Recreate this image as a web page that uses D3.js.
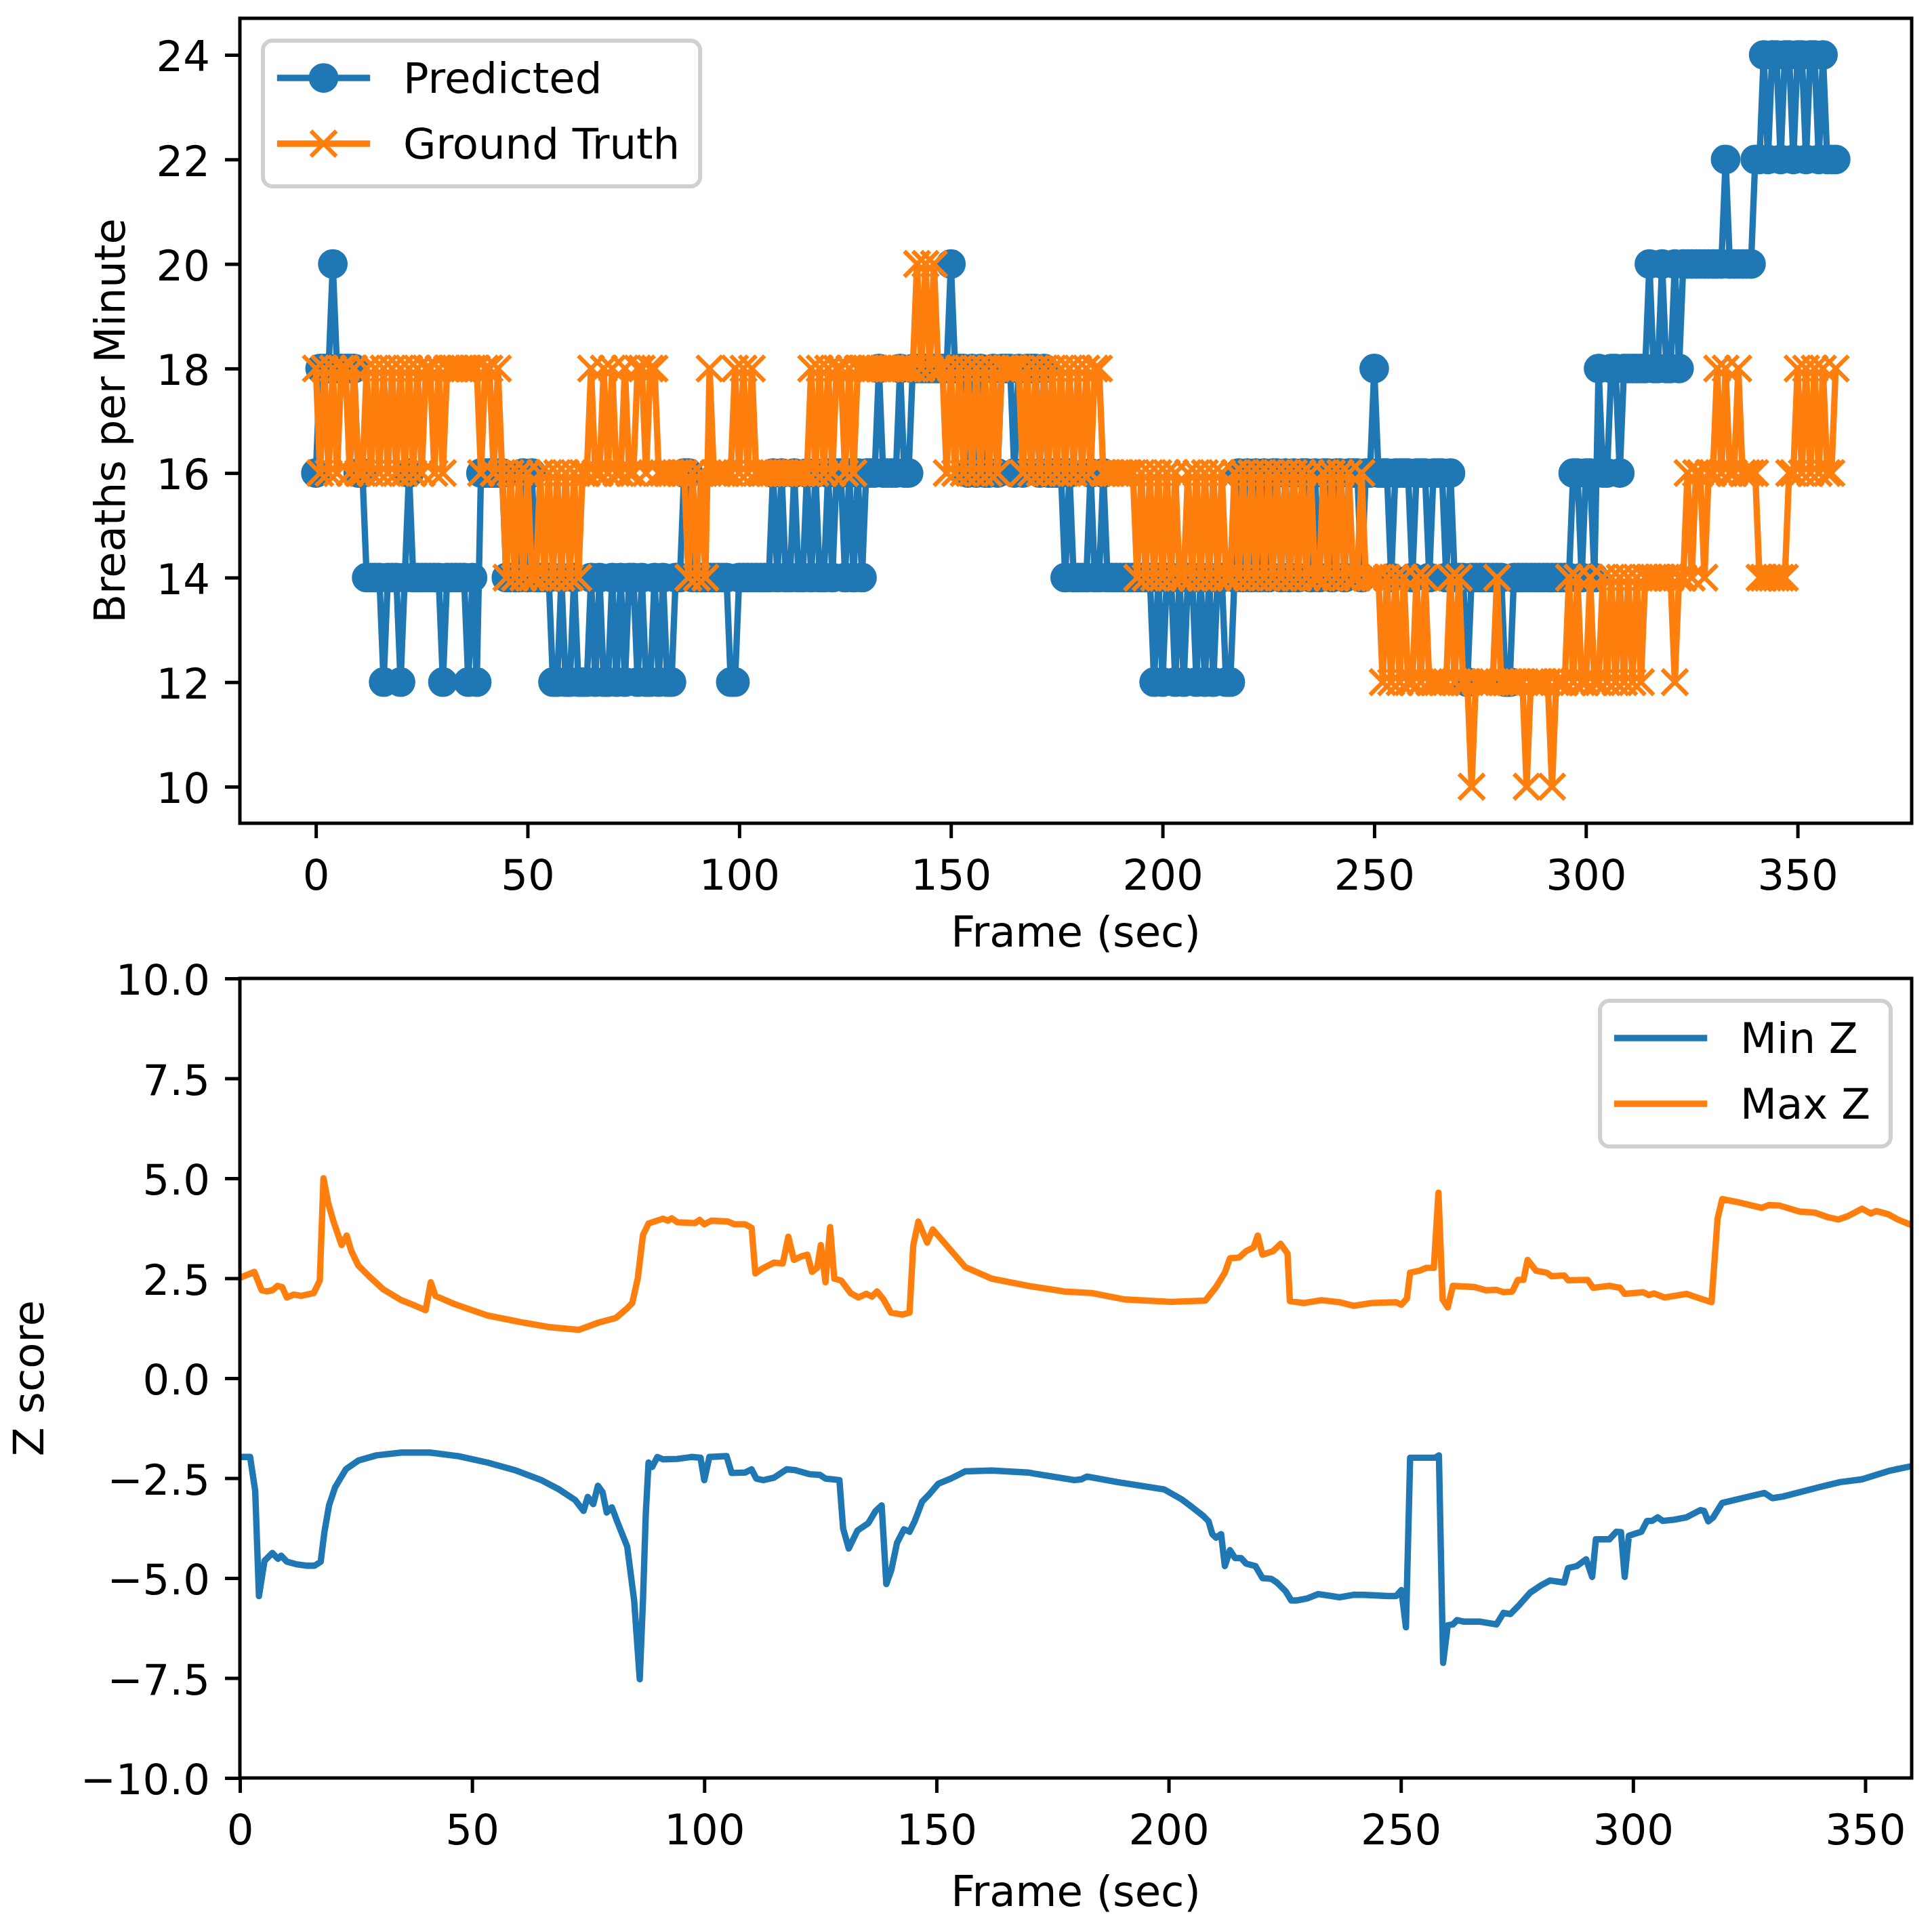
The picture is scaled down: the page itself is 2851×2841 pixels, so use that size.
<!DOCTYPE html>
<html>
<head>
<meta charset="utf-8">
<script src="https://cdn.jsdelivr.net/npm/d3@7"></script>
<style>
  html, body { margin: 0; padding: 0; background: #ffffff; }
  svg { display: block; }
  text { font-family: "DejaVu Sans", sans-serif; }
</style>
</head>
<body>
<script>
// ---------------- DATA ----------------
const predicted = [
  16,18,18,18,20,18,18,18,18,18,
  16,16,14,14,14,14,12,14,14,14,
  12,14,16,14,14,14,14,14,14,14,
  12,14,14,14,14,14,12,14,12,16,
  16,16,16,16,16,14,14,14,14,16,
  14,16,14,14,14,14,12,12,14,12,
  12,14,12,12,12,14,12,14,12,12,
  14,12,14,12,14,14,12,14,12,12,
  14,12,14,12,12,14,14,16,16,14,
  14,14,14,14,14,14,14,14,12,12,
  14,14,14,14,14,14,14,14,16,14,
  16,14,14,16,14,14,16,14,16,14,
  14,16,14,16,16,14,16,14,16,14,
  16,16,16,18,16,16,16,16,18,16,
  16,18,18,18,18,18,18,18,18,18,
  20,18,18,18,16,18,16,18,16,16,
  18,16,18,18,18,16,18,16,18,18,
  18,16,18,16,16,16,16,14,16,14,
  14,14,14,16,14,14,16,14,14,14,
  14,14,14,14,14,14,14,14,12,14,
  12,14,14,12,14,12,14,14,12,14,
  12,14,12,14,14,12,12,14,16,14,
  16,14,16,14,16,14,16,16,14,16,
  14,16,14,16,16,14,16,14,16,16,
  14,16,16,14,16,16,16,14,16,16,
  18,16,16,16,14,16,16,16,16,14,
  16,16,16,14,16,16,16,14,16,14,
  14,14,12,14,14,14,14,14,14,14,
  14,12,12,14,14,14,14,14,14,14,
  14,14,14,14,14,14,14,16,16,14,
  16,16,14,18,16,16,18,18,16,18,
  18,18,18,18,18,20,18,18,20,18,
  18,20,18,20,20,20,20,20,20,20,
  20,20,20,22,20,20,20,20,20,20,
  22,22,24,22,24,24,22,24,24,22,
  24,24,22,24,24,22,24,22,22,22
];
const groundTruth = [
  18,16,18,16,18,16,18,18,16,18,
  16,16,18,16,18,16,18,16,18,16,
  18,16,18,16,18,16,18,18,16,18,
  16,18,18,18,18,18,18,18,18,16,
  18,18,16,18,16,14,16,14,16,14,
  16,14,14,16,14,16,14,16,14,16,
  14,16,14,16,16,18,16,16,18,16,
  18,16,16,18,16,16,18,18,16,18,
  18,16,16,16,16,16,16,16,14,16,
  14,16,14,18,16,16,16,16,16,18,
  16,18,16,18,16,16,16,16,16,16,
  16,16,16,16,16,16,16,18,16,18,
  16,18,16,18,18,16,18,16,18,18,
  18,18,18,18,18,18,18,18,18,18,
  18,18,20,18,20,18,20,18,18,16,
  18,16,18,16,18,16,18,16,18,16,
  18,16,18,18,18,18,18,16,18,16,
  18,16,18,16,18,16,18,16,18,16,
  18,16,18,16,18,18,16,16,16,16,
  16,16,16,16,14,16,14,16,14,16,
  14,16,14,16,14,14,16,14,16,14,
  16,14,16,14,16,14,14,16,14,16,
  14,16,14,16,14,16,14,16,14,16,
  14,16,14,16,14,16,14,14,16,14,
  16,14,16,14,16,14,14,16,14,14,
  14,14,12,14,12,14,12,14,12,12,
  14,12,14,12,12,12,12,12,14,12,
  14,12,12,10,12,12,12,12,12,14,
  12,12,12,12,12,12,10,12,12,12,
  12,12,10,12,12,12,14,12,14,12,
  12,14,12,12,14,12,14,12,14,12,
  14,12,14,12,14,14,14,14,14,14,
  14,12,14,14,16,14,16,16,14,16,
  16,18,16,18,16,16,18,16,16,16,
  16,14,14,14,14,14,14,14,16,16,
  18,16,18,16,18,16,18,16,16,18
];

// Z-score traces (frame, value)
const zMaxFrames = [0,3.1,4.7,5.8,7,8.1,9.1,10.1,11.6,13.2,15.9,17.2,18,19,20.1,21.9,23,24,25.5,27.8,30.9,34.8,37.8,40,41.1,42.1,46.3,53.3,61,66.4,73,77.2,81,83.4,84.5,85.7,86.8,88,91.1,92.2,93,94.2,98,99,100,101.5,105,106.5,108.8,110.2,111,112.3,115,116.9,118.1,119.3,121,122.2,123.2,124.3,125.1,126.1,127.1,128,129.5,131.5,133.2,134.9,136.1,137.2,138.6,140.2,142.6,144.2,145,146.1,148,149.2,151.9,156.2,161.9,169.7,177.4,183.5,190.5,200.5,207.9,210.2,212.1,213.2,215.2,216.7,218.3,219.2,220.2,222.5,224.1,225.6,226.1,229.1,232.9,236.8,239.9,243.6,249,250.1,251.3,252,254,255.5,257.1,258.1,259,260.1,261.2,265.9,268.3,270.6,272.1,274,275.2,276.4,277.3,279.1,281.4,282.5,285.2,286,290.2,291.4,294.9,297.2,298.2,302.2,303.4,304.5,306.8,311.5,313.8,316.9,318.2,319.2,322.3,327.7,329.2,331.5,335.8,339.2,341.9,344.2,346.2,349.3,351.2,352.4,355,357,360];
const zMaxValues = [2.51,2.66,2.2,2.17,2.2,2.31,2.28,2.02,2.09,2.06,2.13,2.44,5.0,4.39,3.94,3.33,3.57,3.18,2.82,2.55,2.22,1.95,1.81,1.7,2.4,2.06,1.85,1.57,1.39,1.28,1.21,1.39,1.51,1.75,1.88,2.51,3.58,3.87,3.99,3.94,4.0,3.9,3.88,3.96,3.85,3.94,3.92,3.85,3.85,3.76,2.62,2.73,2.89,2.87,3.54,2.96,3.05,3.09,2.66,2.76,3.33,2.4,3.78,2.49,2.44,2.13,2.02,2.11,2.04,2.17,1.97,1.64,1.59,1.64,3.32,3.92,3.39,3.72,3.36,2.78,2.49,2.31,2.17,2.13,1.97,1.91,1.94,2.28,2.64,3.0,3.02,3.18,3.27,3.57,3.09,3.18,3.36,3.12,1.93,1.88,1.95,1.9,1.81,1.88,1.9,1.84,1.99,2.64,2.69,2.76,2.76,4.64,1.97,1.77,2.31,2.28,2.2,2.21,2.15,2.17,2.46,2.46,2.96,2.69,2.64,2.55,2.57,2.45,2.46,2.26,2.31,2.26,2.11,2.15,2.08,2.12,2.02,2.11,2.02,1.9,3.99,4.48,4.41,4.26,4.33,4.32,4.17,4.14,4.03,3.97,4.05,4.24,4.12,4.18,4.1,3.97,3.83];
const zMinFrames = [0,2.2,3.3,4.1,5.3,7,8.2,8.9,10.1,12.4,14.3,16.1,17.4,18.2,19.2,20.5,22.8,25.5,29.4,34.8,40.9,47.1,53.3,59.5,64.9,68.7,72.2,74,74.9,76.1,77.1,78.1,79,80.1,81.4,83.4,84.9,86.1,86.8,87.4,88,88.8,89.9,91.1,94.2,97.3,99.2,100,101.1,104.8,105.9,108.8,110.2,111.2,112.7,115,117.7,119.6,122.6,124.9,126.1,129.1,129.9,131.1,133,135.3,136.9,138.2,139.2,140.3,141.5,143,144.2,145.3,146.9,148.4,150.4,153.1,156.2,161.9,169.7,179.7,181.2,182.4,189,199,202.8,205.1,207.5,208.6,209.4,210.2,211.3,212.1,213.2,214.3,215.6,216.7,218.7,220.2,222.1,223.3,225.2,226.4,227.5,229.8,232.2,234.5,236.8,239.7,242,247.4,249,250.1,251.1,252,257.4,258.2,259.1,260.1,261.2,262.1,263.6,267.1,270.6,272.1,273.6,275.6,277.9,280.2,282.1,285.2,286,287.9,289.9,291.2,292,294.9,296.4,297.4,298.2,299.1,301.8,303,304.1,305.3,306.4,308.8,311.5,314.5,315.3,316.2,317.2,319.2,324.6,328.3,330,332.3,340,344.6,349.3,355.4,360];
const zMinValues = [-1.97,-1.97,-2.82,-5.45,-4.57,-4.37,-4.52,-4.44,-4.59,-4.66,-4.69,-4.69,-4.59,-3.85,-3.18,-2.73,-2.28,-2.06,-1.93,-1.86,-1.86,-1.95,-2.11,-2.31,-2.55,-2.78,-3.05,-3.32,-2.97,-3.15,-2.69,-2.85,-3.36,-3.23,-3.63,-4.21,-5.56,-7.53,-5.56,-3.41,-2.11,-2.22,-1.97,-2.03,-2.02,-1.97,-1.99,-2.55,-1.97,-1.95,-2.37,-2.36,-2.28,-2.51,-2.55,-2.49,-2.28,-2.3,-2.4,-2.42,-2.51,-2.55,-3.76,-4.26,-3.81,-3.63,-3.32,-3.18,-5.15,-4.79,-4.12,-3.78,-3.84,-3.58,-3.09,-2.91,-2.64,-2.51,-2.33,-2.31,-2.36,-2.55,-2.53,-2.46,-2.6,-2.78,-3.03,-3.23,-3.45,-3.58,-3.9,-3.99,-3.9,-4.7,-4.3,-4.5,-4.5,-4.64,-4.7,-5.0,-5.02,-5.11,-5.33,-5.56,-5.56,-5.51,-5.4,-5.44,-5.48,-5.42,-5.42,-5.45,-5.45,-5.3,-6.23,-1.99,-1.99,-1.93,-7.12,-6.18,-6.16,-6.05,-6.09,-6.09,-6.16,-5.87,-5.9,-5.66,-5.36,-5.18,-5.06,-5.11,-4.75,-4.7,-4.53,-4.97,-4.03,-4.03,-3.84,-3.85,-4.97,-3.94,-3.84,-3.57,-3.57,-3.48,-3.57,-3.54,-3.48,-3.3,-3.32,-3.58,-3.49,-3.12,-2.97,-2.87,-3.0,-2.96,-2.73,-2.6,-2.53,-2.31,-2.2];

const topXTicks = [0, 50, 100, 150, 200, 250, 300, 350];
const topYTicks = [10, 12, 14, 16, 18, 20, 22, 24];
const botXTicks = [0, 50, 100, 150, 200, 250, 300, 350];
const botYTicks = [-10, -7.5, -5, -2.5, 0, 2.5, 5, 7.5, 10];

const topLegendLabels = ["Predicted", "Ground Truth"];
const botLegendLabels = ["Min Z", "Max Z"];

// ---------------- LAYOUT ----------------
const W = 2851, H = 2841;
const BLUE = "#1f77b4", ORANGE = "#ff7f0e";
const FS = 62.5;          // 10pt at 450 dpi
const LW = 9.375;         // 1.5pt
const SPINE = 5;          // 0.8pt
const TICK = 22;          // 3.5pt
const PAD = 22;

const topBox = { left: 354, right: 2821, top: 27, bottom: 1215 };
const botBox = { left: 354, right: 2821, top: 1444, bottom: 2624 };

const svg = d3.select("body").append("svg")
  .attr("width", W).attr("height", H)
  .attr("viewBox", `0 0 ${W} ${H}`);
svg.append("rect").attr("width", W).attr("height", H).attr("fill", "#ffffff");

const frames = predicted.map((_, i) => i);

// scales
const n = predicted.length - 1;
const xTop = d3.scaleLinear().domain([-0.05 * n, n * 1.05]).range([topBox.left, topBox.right]);
const yTop = d3.scaleLinear().domain([9.3, 24.7]).range([topBox.bottom, topBox.top]);
const xBot = d3.scaleLinear().domain([0, 360]).range([botBox.left, botBox.right]);
const yBot = d3.scaleLinear().domain([-10, 10]).range([botBox.bottom, botBox.top]);

function clip(id, box) {
  svg.append("clipPath").attr("id", id).append("rect")
    .attr("x", box.left).attr("y", box.top)
    .attr("width", box.right - box.left).attr("height", box.bottom - box.top);
}
clip("clipTop", topBox);
clip("clipBot", botBox);

// ---------------- TOP PLOT ----------------
const gTop = svg.append("g").attr("clip-path", "url(#clipTop)");
const lineTop = d3.line().x((d, i) => xTop(frames[i])).y(d => yTop(d));

gTop.append("path").datum(predicted)
  .attr("d", lineTop).attr("fill", "none")
  .attr("stroke", BLUE).attr("stroke-width", LW)
  .attr("stroke-linejoin", "round");
gTop.append("g").selectAll("circle").data(predicted).join("circle")
  .attr("cx", (d, i) => xTop(frames[i])).attr("cy", d => yTop(d))
  .attr("r", 18.75).attr("fill", BLUE)
  .attr("stroke", BLUE).attr("stroke-width", 6.25);

gTop.append("path").datum(groundTruth)
  .attr("d", lineTop).attr("fill", "none")
  .attr("stroke", ORANGE).attr("stroke-width", LW)
  .attr("stroke-linejoin", "round");
const xs = 18.75;
const xPath = `M${-xs},${-xs}L${xs},${xs}M${-xs},${xs}L${xs},${-xs}`;
gTop.append("g").selectAll("path").data(groundTruth).join("path")
  .attr("transform", (d, i) => `translate(${xTop(frames[i])},${yTop(d)})`)
  .attr("d", xPath).attr("fill", "none")
  .attr("stroke", ORANGE).attr("stroke-width", 6.25);

// ---------------- BOTTOM PLOT ----------------
const gBot = svg.append("g").attr("clip-path", "url(#clipBot)");
const lineBot = (fr) => d3.line().x((d, i) => xBot(fr[i])).y(d => yBot(d));
gBot.append("path").datum(zMinValues)
  .attr("d", lineBot(zMinFrames)).attr("fill", "none")
  .attr("stroke", BLUE).attr("stroke-width", LW)
  .attr("stroke-linejoin", "round");
gBot.append("path").datum(zMaxValues)
  .attr("d", lineBot(zMaxFrames)).attr("fill", "none")
  .attr("stroke", ORANGE).attr("stroke-width", LW)
  .attr("stroke-linejoin", "round");

// ---------------- AXES ----------------
function styleAxis(g) {
  g.select(".domain").remove();
  g.selectAll(".tick line").attr("stroke", "#000").attr("stroke-width", SPINE);
  g.selectAll(".tick text").attr("fill", "#000")
    .attr("font-family", "DejaVu Sans").attr("font-size", FS);
}
function drawAxes(box, x, y, xt, yt, yFmt) {
  const gx = svg.append("g").attr("transform", `translate(0,${box.bottom})`)
    .call(d3.axisBottom(x).tickValues(xt).tickFormat(d3.format("d"))
      .tickSizeInner(TICK).tickSizeOuter(0).tickPadding(PAD));
  styleAxis(gx);
  gx.selectAll(".tick text").attr("dy", null).attr("y", 98);
  const gy = svg.append("g").attr("transform", `translate(${box.left},0)`)
    .call(d3.axisLeft(y).tickValues(yt).tickFormat(yFmt)
      .tickSizeInner(TICK).tickSizeOuter(0).tickPadding(PAD));
  styleAxis(gy);
  gy.selectAll(".tick text").attr("dy", "0.38em");
  svg.append("rect")
    .attr("x", box.left).attr("y", box.top)
    .attr("width", box.right - box.left).attr("height", box.bottom - box.top)
    .attr("fill", "none").attr("stroke", "#000").attr("stroke-width", SPINE);
}
drawAxes(topBox, xTop, yTop, topXTicks, topYTicks, d3.format("d"));
drawAxes(botBox, xBot, yBot, botXTicks, botYTicks, d3.format(".1f"));

// axis labels
function label(txt, x, y, rot) {
  const t = svg.append("text").text(txt)
    .attr("font-size", FS).attr("fill", "#000")
    .attr("text-anchor", "middle");
  if (rot) t.attr("transform", `translate(${x},${y}) rotate(-90)`);
  else t.attr("x", x).attr("y", y);
}
label("Frame (sec)", (topBox.left + topBox.right) / 2, 1397, false);
label("Frame (sec)", (botBox.left + botBox.right) / 2, 2813, false);
label("Breaths per Minute", 184, (topBox.top + topBox.bottom) / 2, true);
label("Z score", 64, (botBox.top + botBox.bottom) / 2, true);

// ---------------- LEGENDS ----------------
function legend(box, labels, colors, markers, anchorRight) {
  const g = svg.append("g");
  const texts = labels.map(l =>
    g.append("text").text(l).attr("font-size", FS).attr("fill", "#000"));
  const maxW = d3.max(texts, t => t.node().getComputedTextLength());
  const textOff = 207;
  const bw = textOff + maxW + 30;
  const bh = 215;
  const bx = anchorRight ? box.right - 31 - bw : box.left + 34;
  const by = box.top + 33;
  g.insert("rect", ":first-child")
    .attr("x", bx).attr("y", by).attr("width", bw).attr("height", bh)
    .attr("rx", 14).attr("ry", 14)
    .attr("fill", "#ffffff").attr("fill-opacity", 0.8)
    .attr("stroke", "#d0d0d0").attr("stroke-width", 6);
  labels.forEach((l, i) => {
    const cy = by + 55 + i * 97;
    const hx0 = bx + 25.5, hx1 = bx + 153.5;
    g.append("line").attr("x1", hx0).attr("x2", hx1)
      .attr("y1", cy).attr("y2", cy)
      .attr("stroke", colors[i]).attr("stroke-width", LW)
      .attr("stroke-linecap", "square");
    const mx = (hx0 + hx1) / 2;
    if (markers[i] === "o") {
      g.append("circle").attr("cx", mx).attr("cy", cy).attr("r", 18.75)
        .attr("fill", colors[i]).attr("stroke", colors[i]).attr("stroke-width", 6.25);
    } else if (markers[i] === "x") {
      g.append("path").attr("transform", `translate(${mx},${cy})`).attr("d", xPath)
        .attr("fill", "none").attr("stroke", colors[i]).attr("stroke-width", 6.25);
    }
    texts[i].attr("x", bx + textOff).attr("y", cy + 22);
  });
}
legend(topBox, topLegendLabels, [BLUE, ORANGE], ["o", "x"], false);
legend(botBox, botLegendLabels, [BLUE, ORANGE], [null, null], true);
</script>
</body>
</html>
